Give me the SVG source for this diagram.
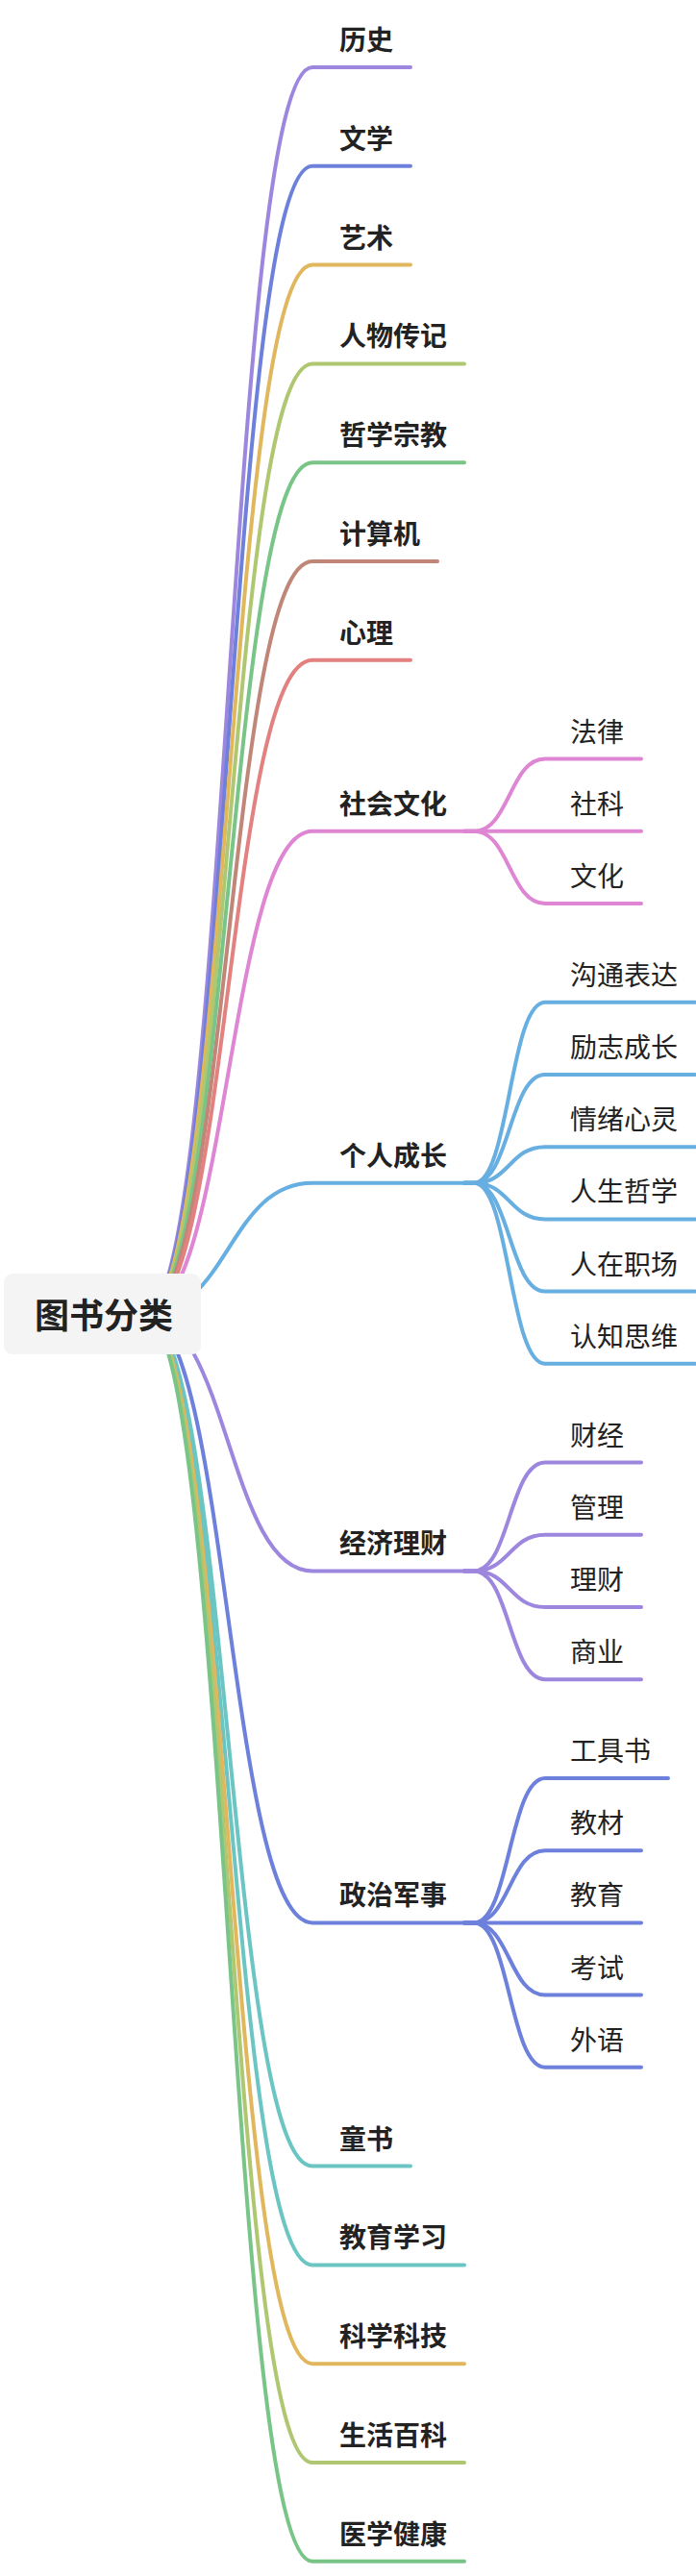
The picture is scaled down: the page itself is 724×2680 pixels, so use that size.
<svg xmlns="http://www.w3.org/2000/svg" width="724" height="2680" viewBox="0 0 724 2680">
<style>
text{font-family:"Noto Sans CJK SC","Noto Sans",sans-serif;fill:#222}
.l1{font-size:28px;font-weight:600}
.l2{font-size:28px;font-weight:400}
.root{font-size:36px;font-weight:700}
#connectors path{fill:none;stroke-width:4;stroke-linecap:round;stroke-linejoin:round}
.c0{stroke:#9d87de}.c1{stroke:#6d80db}.c2{stroke:#e1b75e}.c3{stroke:#afc770}.c4{stroke:#79c487}
.c5{stroke:#c08778}.c6{stroke:#e38080}.c7{stroke:#de86d3}.c8{stroke:#67aee1}.c9{stroke:#6bc5c2}
</style>
<rect width="724" height="2680" fill="#ffffff"/>
<g id="connectors">
<path class="c0" d="M150,1367.4 C237.5,1367.4 237.5,70 325,70 L427,70"/>
<path class="c1" d="M150,1367.4 C237.5,1367.4 237.5,172.8 325,172.8 L427,172.8"/>
<path class="c2" d="M150,1367.4 C237.5,1367.4 237.5,275.6 325,275.6 L427,275.6"/>
<path class="c3" d="M150,1367.4 C237.5,1367.4 237.5,378.4 325,378.4 L483,378.4"/>
<path class="c4" d="M150,1367.4 C237.5,1367.4 237.5,481.2 325,481.2 L483,481.2"/>
<path class="c5" d="M150,1367.4 C237.5,1367.4 237.5,584 325,584 L455,584"/>
<path class="c6" d="M150,1367.4 C237.5,1367.4 237.5,686.8 325,686.8 L427,686.8"/>
<path class="c7" d="M150,1367.4 C237.5,1367.4 237.5,864.8 325,864.8 L483,864.8"/>
<path class="c8" d="M150,1367.4 C237.5,1367.4 237.5,1230.8 325,1230.8 L483,1230.8"/>
<path class="c0" d="M150,1367.4 C237.5,1367.4 237.5,1634.4 325,1634.4 L483,1634.4"/>
<path class="c1" d="M150,1367.4 C237.5,1367.4 237.5,2000.4 325,2000.4 L483,2000.4"/>
<path class="c9" d="M150,1367.4 C237.5,1367.4 237.5,2253.6 325,2253.6 L427,2253.6"/>
<path class="c9" d="M150,1367.4 C237.5,1367.4 237.5,2356.4 325,2356.4 L483,2356.4"/>
<path class="c2" d="M150,1367.4 C237.5,1367.4 237.5,2459.2 325,2459.2 L483,2459.2"/>
<path class="c3" d="M150,1367.4 C237.5,1367.4 237.5,2562 325,2562 L483,2562"/>
<path class="c4" d="M150,1367.4 C237.5,1367.4 237.5,2664.8 325,2664.8 L483,2664.8"/>
<!-- 社会文化 children -->
<path class="c7" d="M483,864.8 L493,864.8 C530,864.8 530,789.6 567,789.6 L667,789.6"/>
<path class="c7" d="M483,864.8 L667,864.8"/>
<path class="c7" d="M483,864.8 L493,864.8 C530,864.8 530,940 567,940 L667,940"/>
<!-- 个人成长 children -->
<path class="c8" d="M483,1230.8 L493,1230.8 C530,1230.8 530,1042.8 567,1042.8 L723,1042.8"/>
<path class="c8" d="M483,1230.8 L493,1230.8 C530,1230.8 530,1118 567,1118 L723,1118"/>
<path class="c8" d="M483,1230.8 L493,1230.8 C530,1230.8 530,1193.2 567,1193.2 L723,1193.2"/>
<path class="c8" d="M483,1230.8 L493,1230.8 C530,1230.8 530,1268.4 567,1268.4 L723,1268.4"/>
<path class="c8" d="M483,1230.8 L493,1230.8 C530,1230.8 530,1343.6 567,1343.6 L723,1343.6"/>
<path class="c8" d="M483,1230.8 L493,1230.8 C530,1230.8 530,1418.8 567,1418.8 L723,1418.8"/>
<!-- 经济理财 children -->
<path class="c0" d="M483,1634.4 L493,1634.4 C530,1634.4 530,1521.6 567,1521.6 L667,1521.6"/>
<path class="c0" d="M483,1634.4 L493,1634.4 C530,1634.4 530,1596.8 567,1596.8 L667,1596.8"/>
<path class="c0" d="M483,1634.4 L493,1634.4 C530,1634.4 530,1672 567,1672 L667,1672"/>
<path class="c0" d="M483,1634.4 L493,1634.4 C530,1634.4 530,1747.2 567,1747.2 L667,1747.2"/>
<!-- 政治军事 children -->
<path class="c1" d="M483,2000.4 L493,2000.4 C530,2000.4 530,1850 567,1850 L695,1850"/>
<path class="c1" d="M483,2000.4 L493,2000.4 C530,2000.4 530,1925.2 567,1925.2 L667,1925.2"/>
<path class="c1" d="M483,2000.4 L667,2000.4"/>
<path class="c1" d="M483,2000.4 L493,2000.4 C530,2000.4 530,2075.6 567,2075.6 L667,2075.6"/>
<path class="c1" d="M483,2000.4 L493,2000.4 C530,2000.4 530,2150.8 567,2150.8 L667,2150.8"/>
</g>
<g id="root"><rect x="4" y="1325" width="205" height="84" rx="9" fill="#f4f4f5"/><text class="root" x="36" y="1382">图书分类</text></g>
<g id="n-lishi"><text class="l1" x="353" y="52">历史</text></g>
<g id="n-wenxue"><text class="l1" x="353" y="154.8">文学</text></g>
<g id="n-yishu"><text class="l1" x="353" y="257.6">艺术</text></g>
<g id="n-renwu"><text class="l1" x="353" y="360.4">人物传记</text></g>
<g id="n-zhexue"><text class="l1" x="353" y="463.2">哲学宗教</text></g>
<g id="n-jisuanji"><text class="l1" x="353" y="566">计算机</text></g>
<g id="n-xinli"><text class="l1" x="353" y="668.8">心理</text></g>
<g id="n-shehui"><text class="l1" x="353" y="846.8">社会文化</text></g>
<g id="n-falv"><text class="l2" x="593" y="771.6">法律</text></g>
<g id="n-sheke"><text class="l2" x="593" y="846.8">社科</text></g>
<g id="n-wenhua"><text class="l2" x="593" y="922">文化</text></g>
<g id="n-geren"><text class="l1" x="353" y="1212.8">个人成长</text></g>
<g id="n-goutong"><text class="l2" x="593" y="1024.8">沟通表达</text></g>
<g id="n-lizhi"><text class="l2" x="593" y="1100">励志成长</text></g>
<g id="n-qingxu"><text class="l2" x="593" y="1175.2">情绪心灵</text></g>
<g id="n-rensheng"><text class="l2" x="593" y="1250.4">人生哲学</text></g>
<g id="n-renzai"><text class="l2" x="593" y="1325.6">人在职场</text></g>
<g id="n-renzhi"><text class="l2" x="593" y="1400.8">认知思维</text></g>
<g id="n-jingji"><text class="l1" x="353" y="1616.4">经济理财</text></g>
<g id="n-caijing"><text class="l2" x="593" y="1503.6">财经</text></g>
<g id="n-guanli"><text class="l2" x="593" y="1578.8">管理</text></g>
<g id="n-licai"><text class="l2" x="593" y="1654">理财</text></g>
<g id="n-shangye"><text class="l2" x="593" y="1729.2">商业</text></g>
<g id="n-zhengzhi"><text class="l1" x="353" y="1982.4">政治军事</text></g>
<g id="n-gongju"><text class="l2" x="593" y="1832">工具书</text></g>
<g id="n-jiaocai"><text class="l2" x="593" y="1907.2">教材</text></g>
<g id="n-jiaoyu"><text class="l2" x="593" y="1982.4">教育</text></g>
<g id="n-kaoshi"><text class="l2" x="593" y="2057.6">考试</text></g>
<g id="n-waiyu"><text class="l2" x="593" y="2132.8">外语</text></g>
<g id="n-tongshu"><text class="l1" x="353" y="2235.6">童书</text></g>
<g id="n-jiaoyuxuexi"><text class="l1" x="353" y="2338.4">教育学习</text></g>
<g id="n-kexue"><text class="l1" x="353" y="2441.2">科学科技</text></g>
<g id="n-shenghuo"><text class="l1" x="353" y="2544">生活百科</text></g>
<g id="n-yixue"><text class="l1" x="353" y="2646.8">医学健康</text></g>
</svg>
